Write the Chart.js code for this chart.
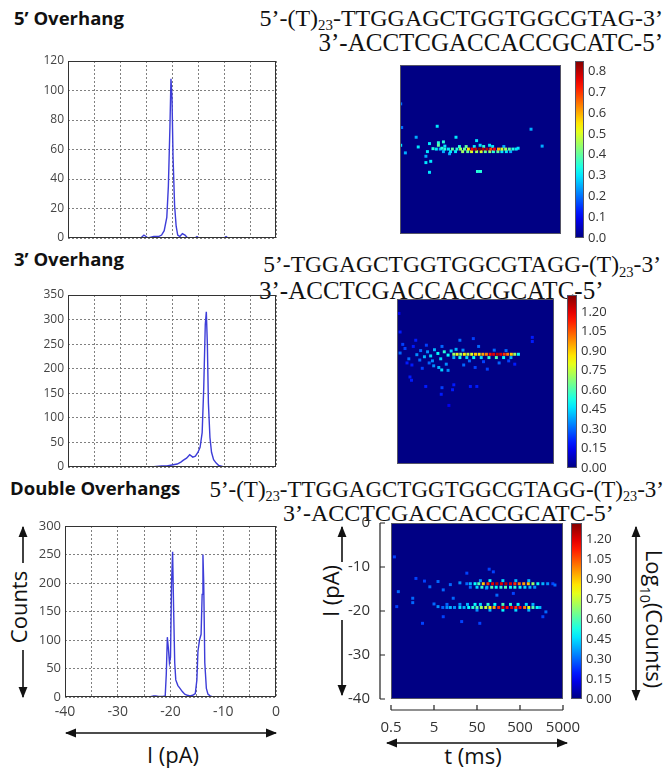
<!DOCTYPE html>
<html>
<head>
<meta charset="utf-8">
<script src="https://cdn.jsdelivr.net/npm/chart.js@4.4.1/dist/chart.umd.min.js"></script>
<style>
body{margin:0;background:#fff;width:666px;height:768px;position:relative;overflow:hidden;font-family:"Open Sans",sans-serif;color:#111}
canvas{position:absolute}
.t{position:absolute;white-space:nowrap;transform:translateY(-50%);line-height:1}
.r{transform:translate(-100%,-50%)}
.title{font-weight:700;font-size:18.5px}
.seq{font-family:"Liberation Serif",serif;font-size:24px}
.seq sub{font-size:0.62em;vertical-align:-0.3em;line-height:0}
.rot{position:absolute;white-space:nowrap;line-height:1;font-size:22px}
svg{position:absolute;left:0;top:0}
</style>
</head>
<body>
<div class="t title" style="left:14px;top:18px">5’ Overhang</div>
<div class="t seq r" style="left:663px;top:18px">5’-(T)<sub>23</sub>-TTGGAGCTGGTGGCGTAG-3’</div>
<div class="t seq r" style="left:663px;top:42px;font-size:25px">3’-ACCTCGACCACCGCATC-5’</div>

<div class="t title" style="left:14px;top:259px">3’ Overhang</div>
<div class="t seq r" style="left:661px;top:265px;font-size:23.5px">5’-TGGAGCTGGTGGCGTAGG-(T)<sub>23</sub>-3’</div>
<div class="t seq" style="left:259px;top:290px;font-size:25px">3’-ACCTCGACCACCGCATC-5’</div>

<div class="t title" style="left:10px;top:488px">Double Overhangs</div>
<div class="t seq r" style="left:664px;top:489px;font-size:23px">5’-(T)<sub>23</sub>-TTGGAGCTGGTGGCGTAGG-(T)<sub>23</sub>-3’</div>
<div class="t seq" style="left:283px;top:513px;font-size:24px">3’-ACCTCGACCACCGCATC-5’</div>

<div class="rot" style="left:18px;top:607px;transform:translate(-50%,-50%) rotate(-90deg)">Counts</div>
<div class="rot" style="left:173px;top:754px;transform:translate(-50%,-50%)">I (pA)</div>
<div class="rot" style="left:330px;top:591px;transform:translate(-50%,-50%) rotate(-90deg)">I (pA)</div>
<div class="rot" style="left:473px;top:755px;transform:translate(-50%,-50%)">t (ms)</div>
<div class="rot" style="left:652px;top:619px;transform:translate(-50%,-50%) rotate(90deg)">Log<sub style="font-size:0.65em">10</sub>(Counts)</div>

<svg width="666" height="768">
  <defs>
    <marker id="ah" viewBox="0 0 10 10" refX="9" refY="5" markerWidth="7" markerHeight="7" orient="auto-start-reverse">
      <path d="M0,1 L10,5 L0,9 z" fill="#111"/>
    </marker>
  </defs>
  <g stroke="#111" stroke-width="1.6" fill="none">
    <line x1="23" y1="563" x2="23" y2="527" marker-end="url(#ah)"/>
    <line x1="23" y1="650" x2="23" y2="697" marker-end="url(#ah)"/>
    <line x1="66" y1="733" x2="276" y2="733" marker-start="url(#ah)" marker-end="url(#ah)"/>
    <line x1="342" y1="562" x2="342" y2="527" marker-end="url(#ah)"/>
    <line x1="342" y1="620" x2="342" y2="695" marker-end="url(#ah)"/>
    <line x1="387" y1="743" x2="567" y2="743" marker-start="url(#ah)" marker-end="url(#ah)"/>
    <line x1="636" y1="527" x2="636" y2="700" marker-start="url(#ah)" marker-end="url(#ah)"/>
  </g>
</svg>

<script>
// current histograms (pA vs counts)
const currentA = [-40, -26, -25.4, -25, -24.6, -23.5, -22.6, -22, -21.5, -21, -20.7, -20.4, -20.2, -20.0, -19.8, -19.5, -19.2, -18.9, -18.5, -18.0, -17.5, -17.0, -15.6, -15.2, -14.8, -14.0, -10, -9.6, -9.2, -8.8, 0];
const countsA  = [0, 0, 2, 1, 0, 1, 1, 2, 5, 14, 35, 75, 108, 95, 55, 22, 8, 2, 1, 3, 2, 0, 0, 1, 0, 0, 0, 1, 0, 0, 0];

const currentB = [-40, -24, -23, -22, -21, -20, -19, -18.3, -17.8, -17.2, -16.6, -16.0, -15.5, -15.0, -14.6, -14.2, -13.9, -13.6, -13.4, -13.2, -13.0, -12.7, -12.4, -12.0, -11.5, -11.0, -10.0, 0];
const countsB  = [0, 0, 1, 2, 2, 4, 6, 10, 14, 18, 25, 20, 22, 30, 40, 70, 160, 290, 316, 250, 130, 60, 30, 15, 8, 3, 0, 0];

const currentC = [-40, -24, -23.2, -22.8, -22.3, -21.5, -21, -20.8, -20.6, -20.4, -20.2, -20.0, -19.8, -19.6, -19.4, -19.2, -19.0, -18.6, -18.2, -17.8, -17.3, -16.8, -16.3, -15.8, -15.3, -15.0, -14.8, -14.5, -14.2, -14.0, -13.85, -13.7, -13.5, -13.2, -12.9, -12.5, -12, -8, 0];
const countsC  = [0, 0, 2, 2, 1, 1, 2, 40, 105, 85, 60, 70, 200, 255, 150, 60, 30, 20, 15, 10, 5, 3, 2, 3, 6, 30, 80, 100, 110, 180, 250, 200, 60, 15, 5, 2, 0, 0, 0];

const currentTicks = [-40, -35, -30, -25, -20, -15, -10, -5, 0];
const currentLabels = [-40, -30, -20, -10, 0];
const countTicksA = [0, 20, 40, 60, 80, 100, 120];
const countTicksB = [0, 50, 100, 150, 200, 250, 300, 350];
const countTicksC = [0, 50, 100, 150, 200, 250, 300];

// event maps: [dwell time ms, current pA, log10(counts)]
const mapA = [
  [4,-19.9,0.3],[5,-19.9,0.25],[6.5,-19.9,0.35],[8,-19.9,0.3],[10,-19.9,0.4],[13,-19.9,0.35],[16,-19.9,0.45],[20,-19.9,0.4],
  [25,-19.9,0.55],[31,-19.9,0.75],[38,-19.9,0.8],[47,-19.9,0.85],[58,-19.9,0.8],[72,-19.9,0.8],[90,-19.9,0.7],[110,-19.9,0.75],
  [140,-19.9,0.6],[170,-19.9,0.5],[210,-19.9,0.45],[260,-19.9,0.4],[320,-19.9,0.35],[385,-19.9,0.3],
  [6,-20.5,0.25],[9,-20.5,0.3],[12,-20.5,0.3],[18,-20.5,0.45],[24,-20.5,0.4],[30,-20.5,0.5],[40,-20.5,0.45],[52,-20.5,0.5],
  [66,-20.5,0.4],[85,-20.5,0.45],[105,-20.5,0.35],[135,-20.5,0.4],[170,-20.5,0.3],[220,-20.5,0.3],[280,-20.5,0.25],
  [15,-19.3,0.35],[22,-19.3,0.4],[35,-19.3,0.3],[60,-19.3,0.35],[100,-19.3,0.3],[190,-19.3,0.25],
  [4.2,-14.5,0.3],[1.26,-17.1,0.25],[0.52,-19.0,0.3],[0.68,-20.8,0.25],[1.42,-19.4,0.3],[2.7,-18.6,0.3],[2.4,-20.5,0.3],
  [2.2,-21.6,0.25],[2.9,-22.8,0.3],[2.2,-23.1,0.3],[2.7,-25.4,0.3],[6.0,-18.2,0.35],[12.3,-17.1,0.3],[40,-17.9,0.3],
  [49,-19.0,0.3],[84,-19.0,0.3],[42,-25.2,0.35],[50,-25.2,0.35],[900,-15.2,0.25],[1700,-19.2,0.25],[430,-19.7,0.3],
  [5.5,-19.7,0.35],[4.5,-19.0,0.4],[4.5,-18.4,0.35],[0.55,-14.8,0.2],[0.52,-9.2,0.2],[3.3,-19.8,0.35],[8.5,-21,0.25],[6.5,-19.2,0.3]
];
const mapB = [
  [14,-13.4,0.7],[17,-13.4,0.8],[21,-13.4,0.7],[26,-13.4,0.85],[32,-13.4,0.75],[40,-13.4,0.8],[50,-13.4,0.9],[62,-13.4,0.85],
  [77,-13.4,0.95],[95,-13.4,1.0],[118,-13.4,1.15],[145,-13.4,1.2],[180,-13.4,1.25],[220,-13.4,1.2],[270,-13.4,1.1],
  [330,-13.4,1.0],[410,-13.4,0.9],[500,-13.4,0.7],[620,-13.4,0.5],
  [14,-14.2,0.4],[20,-14.2,0.5],[30,-14.2,0.45],[45,-14.2,0.5],[70,-14.2,0.45],[110,-14.2,0.55],[170,-14.2,0.6],[260,-14.2,0.5],[400,-14.2,0.4],
  [0.6,-13.1,0.3],[0.8,-12,0.25],[1.0,-14.5,0.3],[1.3,-11.5,0.2],[1.6,-13.5,0.35],[2.0,-12.5,0.3],[2.5,-14,0.4],[3.0,-12.8,0.35],
  [3.6,-13.8,0.45],[4.5,-12.3,0.4],[5.5,-13.2,0.5],[6.5,-14.5,0.45],[8,-12.8,0.55],[10,-13.6,0.5],[12,-12.6,0.45],
  [1.2,-16,0.2],[2.2,-16.8,0.25],[3.3,-15.5,0.3],[4.3,-16.2,0.35],[5.8,-16.6,0.4],[6.9,-17.2,0.45],[10,-17.3,0.35],
  [1.07,-18.9,0.2],[1.17,-19.7,0.2],[2.7,-21.2,0.2],[7,-21.5,0.25],[6.7,-23.1,0.2],[13,-22,0.2],[10.5,-25.8,0.15],
  [14,-20.8,0.2],[37,-21.2,0.2],[54,-21.2,0.2],[49,-16.6,0.25],[500,-15.8,0.2],[44,-9.6,0.25],[1400,-9.3,0.2],
  [1400,-10.3,0.2],[0.56,-3.5,0.15],[0.6,-8,0.2],[20,-10,0.3],[25,-16,0.3],[100,-17,0.25],[200,-15.5,0.3],[60,-11.5,0.3],
  [0.7,-11,0.25],[0.9,-15.5,0.2],[1.5,-10,0.2],[1.9,-14.8,0.3],[2.8,-11.2,0.25],[4,-15,0.35],[7,-11.5,0.3],[9,-15.8,0.35],
  [16,-12.2,0.4],[24,-12.4,0.35],[35,-15,0.3],[80,-15.2,0.25],[150,-12.4,0.3],[300,-12.5,0.3],[350,-15,0.25]
];
const mapC = [
  [29,-13.8,0.3],[35,-13.8,0.4],[45,-13.8,0.5],[55,-13.8,0.6],[70,-13.8,0.9],[90,-13.8,1.1],[115,-13.8,1.2],[145,-13.8,1.25],
  [185,-13.8,1.2],[235,-13.8,1.25],[300,-13.8,1.2],[380,-13.8,1.1],[480,-13.8,1.0],[610,-13.8,0.95],[780,-13.8,0.9],
  [1000,-13.8,0.7],[1300,-13.8,0.5],[1700,-13.8,0.4],[2200,-13.8,0.35],[2900,-13.8,0.25],
  [35,-14.6,0.3],[50,-14.6,0.45],[65,-14.6,0.55],[85,-14.6,0.4],[110,-14.6,0.6],[140,-14.6,0.5],[180,-14.6,0.55],
  [230,-14.6,0.6],[300,-14.6,0.5],[380,-14.6,0.55],[500,-14.6,0.5],[650,-14.6,0.45],[850,-14.6,0.4],[1100,-14.6,0.35],
  [60,-13.1,0.35],[100,-13.1,0.5],[200,-13.1,0.45],[400,-13.1,0.4],[800,-13.1,0.4],
  [8,-19.2,0.3],[10,-19.2,0.35],[12,-19.2,0.4],[15,-19.2,0.35],[20,-19.2,0.45],[25,-19.2,0.4],[32,-19.2,0.5],[40,-19.2,0.55],
  [50,-19.2,0.6],[63,-19.2,0.7],[80,-19.2,0.75],[100,-19.2,0.85],[125,-19.2,0.95],[160,-19.2,1.1],[200,-19.2,1.2],
  [250,-19.2,1.15],[320,-19.2,1.2],[400,-19.2,1.1],[500,-19.2,1.15],[640,-19.2,1.0],[800,-19.2,0.8],[1000,-19.2,0.6],
  [1250,-19.2,0.5],[1450,-19.2,0.4],
  [10,-18.5,0.3],[20,-18.5,0.35],[30,-18.5,0.4],[45,-18.5,0.5],[60,-18.5,0.45],[90,-18.5,0.55],[130,-18.5,0.5],
  [200,-18.5,0.6],[300,-18.5,0.55],[450,-18.5,0.5],[700,-18.5,0.45],[1000,-18.5,0.4],
  [50,-19.8,0.35],[100,-19.8,0.4],[200,-19.8,0.5],[400,-19.8,0.45],[800,-19.8,0.4],
  [0.6,-7.7,0.25],[0.74,-15.6,0.3],[0.68,-19,0.25],[1.6,-17.1,0.3],[1.6,-18.1,0.3],[1.9,-12.6,0.25],[2.7,-22.8,0.25],
  [4.0,-14.5,0.3],[6.2,-13.3,0.3],[8.2,-15.2,0.3],[8.2,-21.3,0.25],[14,-17.1,0.3],[29,-11.4,0.25],[22,-22.4,0.25],
  [58,-22.8,0.25],[83,-14.8,0.3],[96,-10.5,0.25],[120,-11.1,0.25],[145,-16.4,0.3],[350,-16,0.25],[1700,-21.3,0.25],
  [2000,-20.2,0.3],[3250,-14.1,0.3],[6.2,-19,0.35],[5,-18.4,0.3],[12,-14,0.3],[20,-13.6,0.35],[3,-13.2,0.25]
];

const timeTicks = [0.5, 5, 50, 500, 5000];
const mapCurrentTicks = [0, -10, -20, -30, -40];
const cbTicksA = [0, 0.1, 0.2, 0.3, 0.4, 0.5, 0.6, 0.7, 0.8];
const cbTicksB = [0, 0.15, 0.3, 0.45, 0.6, 0.75, 0.9, 1.05, 1.2];
const cbMaxA = 0.85, cbMaxB = 1.33, cbMaxC = 1.32;

function jet(f){
    f = Math.max(0, Math.min(1, f));
    const c = v => Math.round(255 * Math.max(0, Math.min(1, v)));
    return `rgb(${c(1.5 - Math.abs(4*f - 3))},${c(1.5 - Math.abs(4*f - 2))},${c(1.5 - Math.abs(4*f - 1))})`;
}

function mkCanvas(x, y, w, h){
    const cv = document.createElement('canvas');
    cv.width = w; cv.height = h;
    cv.style.left = x + 'px'; cv.style.top = y + 'px';
    cv.style.width = w + 'px'; cv.style.height = h + 'px';
    document.body.appendChild(cv);
    return cv;
}

const setTicks = arr => (s => { s.ticks = arr.map(v => ({value: v})); });
// fixed axis size, and no extra room asked for overhanging labels
const fixX = h => (s => { s.height = h; s.paddingLeft = 0; s.paddingRight = 0; });
const fixY = w => (s => { s.width = w; s.paddingTop = 0; s.paddingBottom = 0; });

const boxPlugin = {
    id: 'box',
    afterDraw(chart, args, opts){
        const a = chart.chartArea, ctx = chart.ctx;
        ctx.save();
        ctx.strokeStyle = opts.color || '#333';
        ctx.lineWidth = 1;
        ctx.strokeRect(a.left + 0.5, a.top + 0.5, a.right - a.left - 1, a.bottom - a.top - 1);
        ctx.restore();
    }
};

function histChart(cv, xs, ys, yTicks, o){
    new Chart(cv, {
        type: 'line',
        data: { datasets: [{ data: xs.map((x, i) => ({x: x, y: ys[i]})), borderColor: '#3d3dd8', borderWidth: 1.4, pointRadius: 0, tension: 0 }] },
        options: {
            animation: false, responsive: false,
            layout: { padding: { top: o.top, right: o.right, bottom: 0, left: 0 } },
            plugins: { legend: {display: false}, tooltip: {enabled: false}, box: {color: '#333'} },
            scales: {
                x: {
                    type: 'linear', min: -40, max: 0,
                    afterBuildTicks: setTicks(currentTicks),
                    afterFit: fixX(o.xh),
                    grid: { color: '#808080', drawTicks: false },
                    border: { display: false, dash: [2, 2] },
                    ticks: { display: o.showX, padding: 7, color: '#444', maxRotation: 0, autoSkip: false,
                             font: {family: 'Open Sans', size: 14},
                             callback: v => currentLabels.includes(v) ? String(v) : '' }
                },
                y: {
                    min: 0, max: yTicks[yTicks.length - 1],
                    afterBuildTicks: setTicks(yTicks),
                    afterFit: fixY(o.yw),
                    grid: { color: '#808080', drawTicks: false },
                    border: { display: false, dash: [2, 2] },
                    ticks: { padding: 4, color: '#444', font: {family: 'Open Sans', size: o.yfs} }
                }
            }
        },
        plugins: [boxPlugin]
    });
}

const mapBg = {
    id: 'mapBg',
    beforeDatasetsDraw(chart){
        const a = chart.chartArea, ctx = chart.ctx;
        ctx.save();
        ctx.fillStyle = '#000084';
        ctx.fillRect(a.left, a.top, a.right - a.left, a.bottom - a.top);
        ctx.restore();
    }
};

const offsetAxes = {
    id: 'offsetAxes',
    afterDraw(chart){
        const a = chart.chartArea, ctx = chart.ctx, xs = chart.scales.x, ys = chart.scales.y;
        const ax = a.left - 11, ay = a.bottom + 11;
        ctx.save();
        ctx.strokeStyle = '#222'; ctx.lineWidth = 1.2;
        ctx.beginPath();
        ctx.moveTo(ax, ys.getPixelForValue(0)); ctx.lineTo(ax, ys.getPixelForValue(-40));
        mapCurrentTicks.forEach(v => { const p = ys.getPixelForValue(v); ctx.moveTo(ax, p); ctx.lineTo(ax + 5, p); });
        ctx.moveTo(xs.getPixelForValue(0.5), ay); ctx.lineTo(xs.getPixelForValue(5000), ay);
        timeTicks.forEach(v => { const p = xs.getPixelForValue(v); ctx.moveTo(p, ay); ctx.lineTo(p, ay - 5); });
        ctx.stroke();
        ctx.restore();
    }
};

function mapChart(cv, pts, vmax, o){
    const sorted = pts.slice().sort((p, q) => p[2] - q[2]);
    const tickFont = {family: 'Open Sans', size: 15};
    new Chart(cv, {
        type: 'scatter',
        data: { datasets: [{
            data: sorted.map(p => ({x: p[0], y: p[1], v: p[2]})),
            pointStyle: 'rect', pointRadius: 2.1, borderWidth: 0,
            backgroundColor: c => jet(c.raw ? c.raw.v / vmax : 0)
        }] },
        options: {
            animation: false, responsive: false,
            layout: { padding: o.pad },
            plugins: { legend: {display: false}, tooltip: {enabled: false}, box: {color: '#556'} },
            scales: {
                x: {
                    type: 'logarithmic', min: 0.5, max: 5000, display: o.axes,
                    afterBuildTicks: setTicks(timeTicks),
                    afterFit: fixX(o.xh || 0),
                    grid: { display: false, drawTicks: false }, border: { display: false },
                    ticks: { padding: 20, color: '#333', font: tickFont, maxRotation: 0, autoSkip: false, callback: v => String(v) }
                },
                y: {
                    min: -40, max: 0, display: o.axes,
                    afterBuildTicks: setTicks(mapCurrentTicks),
                    afterFit: fixY(o.yw || 0),
                    grid: { display: false, drawTicks: false }, border: { display: false },
                    ticks: { padding: 21, color: '#333', font: tickFont }
                }
            }
        },
        plugins: o.axes ? [mapBg, boxPlugin, offsetAxes] : [mapBg, boxPlugin]
    });
}

function colorBar(cv, vmax, ticks, digits, o){
    new Chart(cv, {
        type: 'bar',
        data: { labels: [''], datasets: [{
            data: [vmax], barPercentage: 1, categoryPercentage: 1,
            backgroundColor: c => {
                const a = c.chart.chartArea;
                if (!a) return '#000084';
                const g = c.chart.ctx.createLinearGradient(0, a.bottom, 0, a.top);
                for (let i = 0; i <= 20; i++) g.addColorStop(i / 20, jet(i / 20));
                return g;
            }
        }] },
        options: {
            animation: false, responsive: false,
            layout: { padding: { top: o.top, bottom: o.bottom, left: 0, right: 0 } },
            plugins: { legend: {display: false}, tooltip: {enabled: false}, box: {color: '#556'} },
            scales: {
                x: { display: false },
                y: {
                    position: 'right', min: 0, max: vmax,
                    afterBuildTicks: setTicks(ticks),
                    afterFit: fixY(o.yw),
                    grid: { display: false, drawTicks: false }, border: { display: false },
                    ticks: { padding: 4, color: '#333', font: {family: 'Open Sans', size: 13}, callback: v => v.toFixed(digits) }
                }
            }
        },
        plugins: [boxPlugin]
    });
}

// row 1
histChart(mkCanvas(18, 50, 262, 195), currentA, countsA, countTicksA, {top: 11, right: 4, xh: 7, yw: 50, yfs: 12, showX: false});
mapChart(mkCanvas(396, 61, 169, 177), mapA, cbMaxA, {axes: false, pad: 0});
colorBar(mkCanvas(575, 51, 60, 197), cbMaxA, cbTicksA, 1, {top: 10, bottom: 10, yw: 51});

// row 2
histChart(mkCanvas(18, 284, 262, 190), currentB, countsB, countTicksB, {top: 11, right: 4, xh: 7, yw: 50, yfs: 12, showX: false});
mapChart(mkCanvas(393, 295, 165, 173), mapB, cbMaxB, {axes: false, pad: 0});
colorBar(mkCanvas(567, 285, 60, 193), cbMaxB, cbTicksB, 2, {top: 10, bottom: 10, yw: 50});

// row 3
histChart(mkCanvas(15, 515, 265, 230), currentC, countsC, countTicksC, {top: 11, right: 4, xh: 48, yw: 50, yfs: 13, showX: true});
mapChart(mkCanvas(330, 515, 275, 225), mapC, cbMaxC, {axes: true, pad: {top: 8, right: 42, left: 0, bottom: 0}, xh: 41, yw: 61});
colorBar(mkCanvas(571, 513, 60, 196), cbMaxC, cbTicksB, 2, {top: 10, bottom: 10, yw: 49});
</script>
</body>
</html>
